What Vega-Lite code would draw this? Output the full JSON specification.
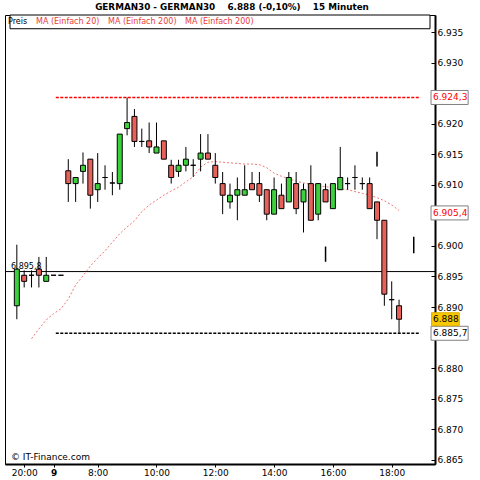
{
"$schema":"https://vega.github.io/schema/vega-lite/v6.json",
"width":430,"height":449,
"autosize":"none",
"padding":{"left":5,"top":15,"right":45,"bottom":16},
"background":"white",
"title":{"text":"GERMAN30 - GERMAN30\u00a0\u00a0\u00a0\u00a06.888 (-0,10%)\u00a0\u00a0\u00a0\u00a015 Minuten","font":"DejaVu Sans","fontSize":8.8,"fontWeight":"bold","color":"black","anchor":"middle","dx":12,"offset":3},
"config":{"view":{"stroke":"black","strokeWidth":1},"font":"DejaVu Sans",
 "axis":{"labelOverlap":false,"labelFlush":false,"labelBound":false,"grid":false}},
"datasets":{
"candles":[
{"i":1,"t":"8. 19:45","open":6.8902,"high":6.9002,"low":6.8880,"close":6.8962},
{"i":2,"t":"8. 20:00","open":6.8952,"high":6.8960,"low":6.8932,"close":6.8942},
{"i":3,"t":"8. 20:15","open":6.8952,"high":6.8960,"low":6.8932,"close":6.8952,"ma20":6.8848},
{"i":4,"t":"8. 20:30","open":6.8962,"high":6.8982,"low":6.8932,"close":6.8952,"ma20":6.8864},
{"i":5,"t":"8. 20:45","open":6.8942,"high":6.8982,"low":6.8942,"close":6.8952,"ma20":6.8879},
{"i":6,"t":"9. 06:30","open":6.8952,"high":6.8952,"low":6.8952,"close":6.8952,"ma20":6.8889},
{"i":7,"t":"9. 06:45","open":6.8952,"high":6.8952,"low":6.8952,"close":6.8952,"ma20":6.8897},
{"i":8,"t":"9. 07:00","open":6.9123,"high":6.9142,"low":6.9072,"close":6.9102,"ma20":6.8913},
{"i":9,"t":"9. 07:15","open":6.9102,"high":6.9112,"low":6.9072,"close":6.9112,"ma20":6.8936},
{"i":10,"t":"9. 07:30","open":6.9122,"high":6.9153,"low":6.9102,"close":6.9132,"ma20":6.8951},
{"i":11,"t":"9. 07:45","open":6.9142,"high":6.9142,"low":6.9061,"close":6.9083,"ma20":6.8967},
{"i":12,"t":"9. 08:00","open":6.9092,"high":6.9152,"low":6.9072,"close":6.9102,"ma20":6.8980},
{"i":13,"t":"9. 08:15","open":6.9112,"high":6.9132,"low":6.9092,"close":6.9112,"ma20":6.8992},
{"i":14,"t":"9. 08:30","open":6.9103,"high":6.9121,"low":6.9083,"close":6.9103,"ma20":6.9006},
{"i":15,"t":"9. 08:45","open":6.9102,"high":6.9183,"low":6.9092,"close":6.9183,"ma20":6.9020},
{"i":16,"t":"9. 09:00","open":6.9192,"high":6.9243,"low":6.9181,"close":6.9202,"ma20":6.9031},
{"i":17,"t":"9. 09:15","open":6.9212,"high":6.9224,"low":6.9162,"close":6.9171,"ma20":6.9041},
{"i":18,"t":"9. 09:30","open":6.9171,"high":6.9192,"low":6.9162,"close":6.9171,"ma20":6.9056},
{"i":19,"t":"9. 09:45","open":6.9172,"high":6.9202,"low":6.9152,"close":6.9162,"ma20":6.9067},
{"i":20,"t":"9. 10:00","open":6.9152,"high":6.9202,"low":6.9152,"close":6.9162,"ma20":6.9075},
{"i":21,"t":"9. 10:15","open":6.9172,"high":6.9172,"low":6.9142,"close":6.9142,"ma20":6.9083},
{"i":22,"t":"9. 10:30","open":6.9132,"high":6.9141,"low":6.9102,"close":6.9112,"ma20":6.9090},
{"i":23,"t":"9. 10:45","open":6.9122,"high":6.9141,"low":6.9113,"close":6.9132,"ma20":6.9096},
{"i":24,"t":"9. 11:00","open":6.9132,"high":6.9162,"low":6.9122,"close":6.9142,"ma20":6.9105},
{"i":25,"t":"9. 11:15","open":6.9132,"high":6.9142,"low":6.9113,"close":6.9132,"ma20":6.9113},
{"i":26,"t":"9. 11:30","open":6.9142,"high":6.9183,"low":6.9122,"close":6.9152,"ma20":6.9129},
{"i":27,"t":"9. 11:45","open":6.9152,"high":6.9183,"low":6.9142,"close":6.9142,"ma20":6.9137},
{"i":28,"t":"9. 12:00","open":6.9132,"high":6.9152,"low":6.9102,"close":6.9112,"ma20":6.9138},
{"i":29,"t":"9. 12:15","open":6.9102,"high":6.9121,"low":6.9052,"close":6.9083,"ma20":6.9137},
{"i":30,"t":"9. 12:30","open":6.9072,"high":6.9102,"low":6.9061,"close":6.9083,"ma20":6.9136},
{"i":31,"t":"9. 12:45","open":6.9083,"high":6.9112,"low":6.9042,"close":6.9092,"ma20":6.9135},
{"i":32,"t":"9. 13:00","open":6.9083,"high":6.9132,"low":6.9083,"close":6.9092,"ma20":6.9134},
{"i":33,"t":"9. 13:15","open":6.9102,"high":6.9121,"low":6.9092,"close":6.9092,"ma20":6.9134},
{"i":34,"t":"9. 13:30","open":6.9102,"high":6.9121,"low":6.9072,"close":6.9083,"ma20":6.9133},
{"i":35,"t":"9. 13:45","open":6.9092,"high":6.9092,"low":6.9042,"close":6.9052,"ma20":6.9128},
{"i":36,"t":"9. 14:00","open":6.9052,"high":6.9112,"low":6.9052,"close":6.9092,"ma20":6.9119},
{"i":37,"t":"9. 14:15","open":6.9083,"high":6.9102,"low":6.9061,"close":6.9061,"ma20":6.9114},
{"i":38,"t":"9. 14:30","open":6.9072,"high":6.9121,"low":6.9072,"close":6.9112,"ma20":6.9110},
{"i":39,"t":"9. 14:45","open":6.9102,"high":6.9121,"low":6.9052,"close":6.9061,"ma20":6.9106},
{"i":40,"t":"9. 15:00","open":6.9072,"high":6.9102,"low":6.9022,"close":6.9092,"ma20":6.9103},
{"i":41,"t":"9. 15:15","open":6.9102,"high":6.9132,"low":6.9042,"close":6.9042,"ma20":6.9101},
{"i":42,"t":"9. 15:30","open":6.9052,"high":6.9102,"low":6.9042,"close":6.9102,"ma20":6.9098},
{"i":43,"t":"9. 15:45","open":6.9092,"high":6.9102,"low":6.9072,"close":6.9072,"ma20":6.9097},
{"i":44,"t":"9. 16:00","open":6.9061,"high":6.9102,"low":6.9061,"close":6.9102,"ma20":6.9095},
{"i":45,"t":"9. 16:15","open":6.9092,"high":6.9162,"low":6.9092,"close":6.9112,"ma20":6.9093},
{"i":46,"t":"9. 16:30","open":6.9102,"high":6.9112,"low":6.9092,"close":6.9102,"ma20":6.9092},
{"i":47,"t":"9. 16:45","open":6.9112,"high":6.9132,"low":6.9092,"close":6.9112,"ma20":6.9089},
{"i":48,"t":"9. 17:00","open":6.9102,"high":6.9112,"low":6.9092,"close":6.9102,"ma20":6.9086},
{"i":49,"t":"9. 17:15","open":6.9102,"high":6.9112,"low":6.9061,"close":6.9061,"ma20":6.9083},
{"i":50,"t":"9. 17:30","open":6.9072,"high":6.9072,"low":6.9011,"close":6.9042,"ma20":6.9079},
{"i":51,"t":"9. 17:45","open":6.9042,"high":6.9042,"low":6.8902,"close":6.8921,"ma20":6.9074},
{"i":52,"t":"9. 18:00","open":6.8912,"high":6.8942,"low":6.8880,"close":6.8912,"ma20":6.9067},
{"i":53,"t":"9. 18:15","open":6.8902,"high":6.8912,"low":6.8857,"close":6.8880,"ma20":6.9058}
],
"tags":[
{"kind":"hoch","value":6.9243,"label":"6.924,3"},
{"kind":"ma20","value":6.9054,"label":"6.905,4"},
{"kind":"kurs","value":6.8880,"label":"6.888"},
{"kind":"tief","value":6.8857,"label":"6.885,7"}
]
},
"layer":[
{"data":{"values":[{"box":"Legende"}]},
 "mark":{"type":"rect","fill":"white","stroke":"black","strokeWidth":1},
 "encoding":{"x":{"datum":0.07},"x2":{"datum":57.21},"y":{"datum":6.9378},"y2":{"datum":6.93555}}},
{"data":{"values":[{"value":6.8958,"label":"6.895,8"}]},
 "layer":[
  {"mark":{"type":"rule","color":"black","strokeWidth":1},
   "encoding":{"y":{"field":"value","type":"quantitative","title":null}}},
  {"mark":{"type":"text","align":"left","baseline":"bottom","dx":1,"dy":-1,"fontSize":8,"font":"DejaVu Sans","color":"black"},
   "encoding":{"x":{"datum":0.07},"y":{"field":"value","type":"quantitative","title":null},"text":{"field":"label"}}}
 ]},
{"data":{"values":[{"kind":"Hoch","value":6.9243},{"kind":"Tief","value":6.8857}]},
 "mark":{"type":"rule","strokeWidth":1.6,"strokeDash":[3,1.5]},
 "encoding":{"x":{"datum":6.3},"x2":{"datum":55.9},"y":{"field":"value","type":"quantitative","title":null},
  "color":{"condition":{"test":"datum.kind === 'Hoch'","value":"#ff0000"},"value":"black"}}},
{"data":{"name":"candles"},
 "mark":{"type":"line","strokeWidth":1,"strokeDash":[2,2]},
 "encoding":{"x":{"field":"i","type":"quantitative","title":null},"y":{"field":"ma20","type":"quantitative","title":null},
  "color":{"datum":"MA (Einfach 20)","scale":{"domain":["Preis","MA (Einfach 20)","MA (Einfach 200)","MA (Einfach 200) "],"range":["black","#f07878","#e83c3c","#e83c3c"]},
   "legend":{"title":null,"orient":"top-left","direction":"horizontal","offset":0,"padding":3,"symbolSize":1,"symbolStrokeWidth":0,"symbolOpacity":0,"labelOffset":-8,"columnPadding":8,"labelFont":"DejaVu Sans","labelFontSize":8,"labelColor":"#e83c3c",
    "encode":{"labels":{"update":{"fill":{"signal":"datum.label === 'Preis' ? 'black' : '#e83c3c'"}}}}}}}},
{"data":{"name":"candles"},
 "mark":{"type":"rule","color":"black","strokeWidth":1},
 "encoding":{
  "x":{"field":"i","type":"quantitative","title":null,"scale":{"domain":[0.07,57.21],"nice":false,"zero":false},
   "axis":{"orient":"bottom","values":[2,6,12,20,28,36,44,52],"tickCount":20,
    "labelExpr":"datum.value == 2 ? '20:00' : datum.value == 6 ? '9' : datum.value == 12 ? '8:00' : datum.value == 20 ? '10:00' : datum.value == 28 ? '12:00' : datum.value == 36 ? '14:00' : datum.value == 44 ? '16:00' : '18:00'",
    "grid":false,"domainColor":"black","domainWidth":2,"tickColor":"black","tickSize":3,"labelFontSize":9,"labelFont":"DejaVu Sans","labelColor":"black","labelPadding":1,"labelFlush":false,"labelOverlap":false,
    "labelFontWeight":{"condition":{"test":"datum.value == 6","value":"bold"},"value":"normal"}}},
  "y":{"field":"low","type":"quantitative","title":null,"scale":{"domain":[6.8643,6.9378],"nice":false,"zero":false},
   "axis":{"orient":"right","values":[6.865,6.87,6.875,6.88,6.885,6.89,6.895,6.9,6.905,6.91,6.915,6.92,6.925,6.93,6.935],"tickCount":30,"format":".3f",
    "labelExpr":"datum.label == '6.925' || datum.label == '6.905' || datum.label == '6.885' ? '' : datum.label",
    "grid":false,"domainColor":"black","domainWidth":2,"tickColor":"black","tickSize":-4,"labelPadding":6,"labelFontSize":9,"labelFont":"DejaVu Sans","labelColor":"black","labelFlush":false,"labelOverlap":false,"labelBound":false}},
  "y2":{"field":"high"}}},
{"data":{"name":"candles"},
 "mark":{"type":"bar","size":5,"stroke":"black","strokeWidth":1},
 "encoding":{"x":{"field":"i","type":"quantitative","title":null},"y":{"field":"open","type":"quantitative","title":null},"y2":{"field":"close"},
  "fill":{"condition":{"test":"datum.close > datum.open","value":"#3cd03c"},"value":"#e8605a"}}},
{"data":{"values":[{"i":43,"low":6.8974,"high":6.8999},{"i":50,"low":6.9130,"high":6.9154},{"i":55,"low":6.8988,"high":6.9015}]},
 "mark":{"type":"rule","color":"black","strokeWidth":1.5},
 "encoding":{"x":{"field":"i","type":"quantitative","title":null},"y":{"field":"low","type":"quantitative","title":null},"y2":{"field":"high"}}},
{"data":{"values":[{"text":"© IT-Finance.com"}]},
 "mark":{"type":"text","align":"left","baseline":"bottom","dx":1,"dy":-2,"fontSize":9,"font":"DejaVu Sans","color":"black"},
 "encoding":{"x":{"datum":0.07},"y":{"datum":6.8643},"text":{"field":"text"}}},
{"data":{"name":"tags"},
 "transform":[{"filter":"datum.kind !== 'kurs'"}],
 "mark":{"type":"rect","height":14,"fill":"white","stroke":"#808080","strokeWidth":1},
 "encoding":{"x":{"datum":57.35},"x2":{"datum":62.4},"y":{"field":"value","type":"quantitative","title":null}}},
{"data":{"name":"tags"},
 "transform":[{"filter":"datum.kind === 'kurs'"}],
 "mark":{"type":"rect","height":13,"fill":"#f8c800","stroke":"#e0b000","strokeWidth":1},
 "encoding":{"x":{"datum":57.42},"x2":{"datum":61.2},"y":{"field":"value","type":"quantitative","title":null}}},
{"data":{"name":"tags"},
 "mark":{"type":"text","align":"left","baseline":"middle","dx":3,"fontSize":9,"font":"DejaVu Sans"},
 "encoding":{"x":{"datum":57.21},"y":{"field":"value","type":"quantitative","title":null},"text":{"field":"label"},
  "color":{"condition":{"test":"datum.kind === 'hoch' || datum.kind === 'ma20'","value":"#ff0000"},"value":"black"}}}
]
}
